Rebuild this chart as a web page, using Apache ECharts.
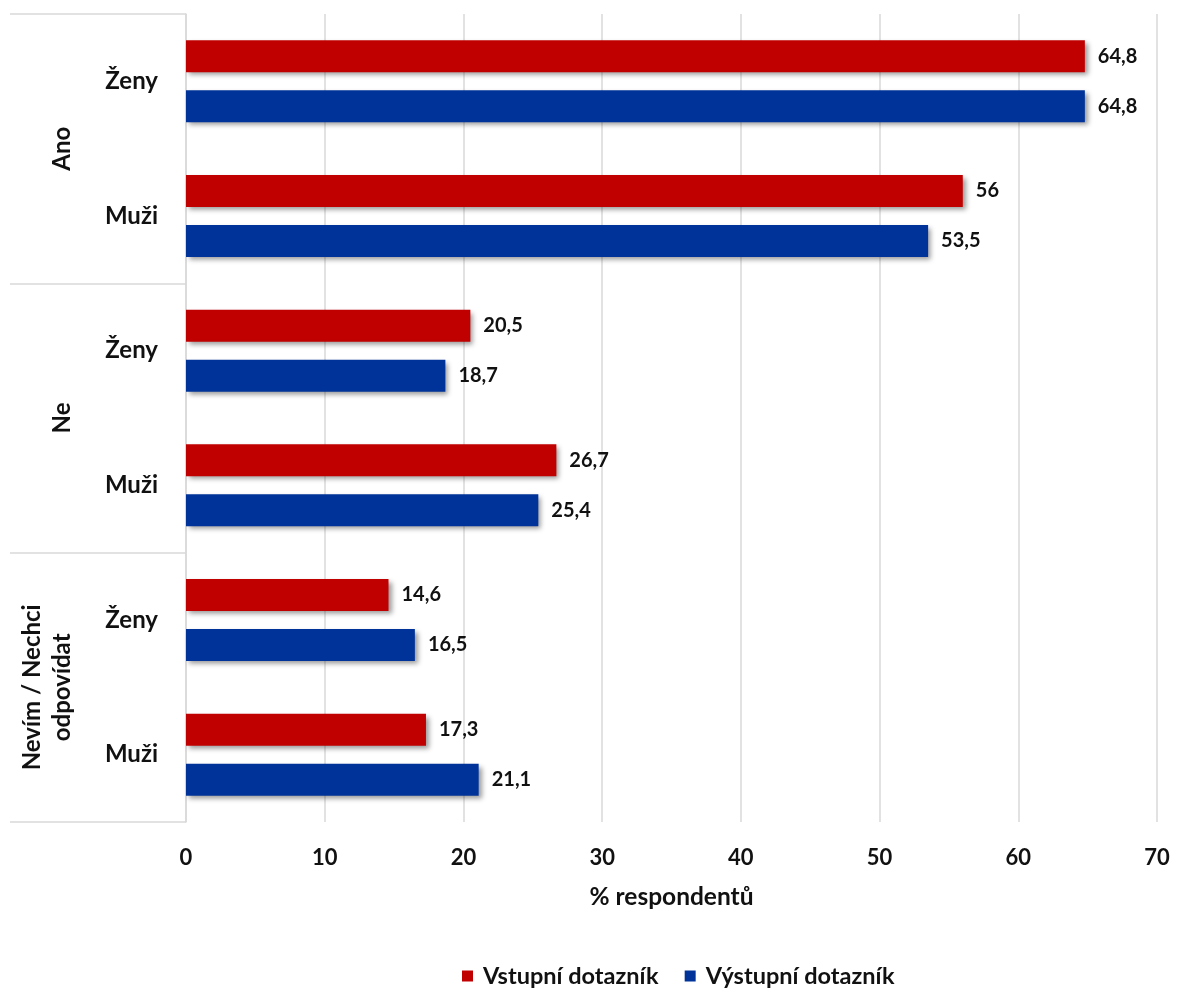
<!DOCTYPE html>
<html>
<head>
<meta charset="utf-8">
<script src="https://cdn.jsdelivr.net/npm/echarts@6/dist/echarts.min.js"></script>
<style>
html,body{margin:0;padding:0;background:#fff;}
#chart{width:1178px;height:990px;}
</style>
</head>
<body>
<div id="chart"></div>
<script>
const groups = ['Ano', 'Ne', 'Nevím / Nechci\nodpovídat'];
const subgroups = ['Ženy', 'Muži'];
const seriesNames = ['Vstupní dotazník', 'Výstupní dotazník'];
const vstupni = [64.8, 56, 20.5, 26.7, 14.6, 17.3];
const vystupni = [64.8, 53.5, 18.7, 25.4, 16.5, 21.1];
const xTicks = [0, 10, 20, 30, 40, 50, 60, 70];
const xTitle = '% respondentů';

const categories = [];
groups.forEach(g => subgroups.forEach(s => categories.push(g + '|' + s)));

const FONT = 'Lato';
const TXT = '#111';
const GRID = '#d9d9d9';
const fmt = v => String(v).replace('.', ',');

const chart = echarts.init(document.getElementById('chart'));
const barShadow = {shadowColor: 'rgba(0,0,0,0.4)', shadowBlur: 5, shadowOffsetX: 3, shadowOffsetY: 3};

chart.setOption({
  animation: false,
  textStyle: {fontFamily: FONT},
  grid: {left: 186, right: 21, top: 14, bottom: 168, containLabel: false},
  legend: {
    left: 457, top: 959,
    itemWidth: 11, itemHeight: 11, itemGap: 26,
    icon: 'rect',
    textStyle: {fontFamily: FONT, fontSize: 23.5, fontWeight: 'bold', color: TXT, padding: [0, 0, 0, 5]},
    data: seriesNames
  },
  xAxis: {
    type: 'value',
    min: xTicks[0], max: xTicks[xTicks.length - 1], interval: 10,
    axisLine: {show: false},
    axisTick: {show: false},
    splitLine: {show: true, lineStyle: {color: GRID, width: 1.5}},
    axisLabel: {margin: 25, fontFamily: FONT, fontSize: 22, fontWeight: 'bold', color: TXT},
    name: xTitle,
    nameLocation: 'middle',
    nameGap: 63,
    nameTextStyle: {fontFamily: FONT, fontSize: 24.5, fontWeight: 'bold', color: TXT}
  },
  yAxis: [
    {
      type: 'category',
      data: categories,
      inverse: true,
      position: 'left',
      axisLine: {show: true, lineStyle: {color: GRID, width: 1.5}},
      axisTick: {show: false},
      axisLabel: {
        margin: 28, fontFamily: FONT, fontSize: 24, fontWeight: 'bold', color: TXT,
        formatter: v => v.split('|')[1]
      }
    },
    {
      type: 'category',
      data: groups,
      inverse: true,
      position: 'left',
      offset: 0,
      axisLine: {show: false},
      axisTick: {show: true, length: 176, inside: false, interval: 0, lineStyle: {color: GRID, width: 1.5}},
      axisLabel: {
        rotate: 90, margin: 109, interval: 0,
        fontFamily: FONT, fontSize: 24, fontWeight: 'bold', color: TXT, lineHeight: 30
      }
    }
  ],
  series: [
    {
      name: seriesNames[0], type: 'bar', yAxisIndex: 0, data: vstupni,
      barWidth: 32, barGap: '56%',
      itemStyle: Object.assign({color: '#C00000'}, barShadow),
      label: {show: true, position: 'right', distance: 13, fontFamily: FONT, fontSize: 20, fontWeight: 'bold', color: TXT, formatter: p => fmt(p.value)}
    },
    {
      name: seriesNames[1], type: 'bar', yAxisIndex: 0, data: vystupni,
      barWidth: 32, barGap: '56%',
      itemStyle: Object.assign({color: '#003399'}, barShadow),
      label: {show: true, position: 'right', distance: 13, fontFamily: FONT, fontSize: 20, fontWeight: 'bold', color: TXT, formatter: p => fmt(p.value)}
    }
  ]
});
</script>
</body>
</html>
